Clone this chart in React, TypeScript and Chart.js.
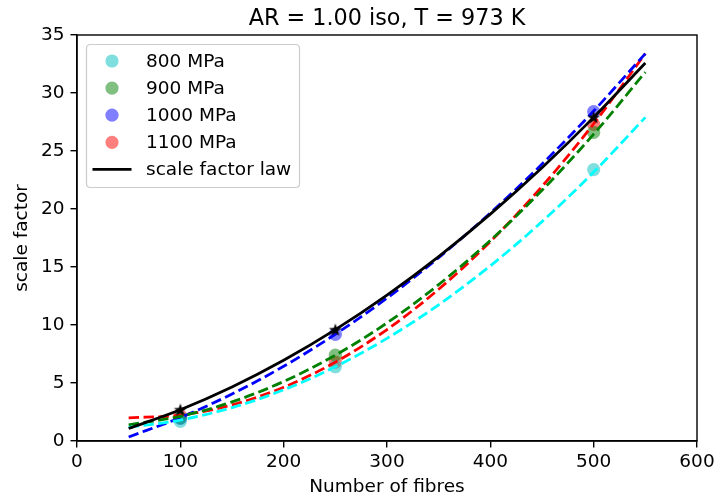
import React, { useEffect, useRef } from "react";
import { Chart, registerables } from "chart.js";

Chart.register(...registerables);

const titleText = "AR = 1.00 iso, T = 973 K";
const xTitle = "Number of fibres";
const yTitle = "scale factor";

const fibreCounts = [100, 250, 500];
const pts800 = [1.7, 6.4, 23.4];
const pts900 = [2.0, 7.4, 26.6];
const pts1000 = [1.95, 9.2, 28.4];
const pts1100 = [2.2, 6.8, 27.3];
const lawStars = [2.7, 9.6, 27.9];

const fitX = [50, 100, 150, 200, 250, 300, 350, 400, 450, 500, 550];
const fit800 = [1.18, 1.8, 2.88, 4.41, 6.4, 8.85, 11.74, 15.1, 18.91, 23.18, 27.9];
const fit900 = [1.4, 2.13, 3.37, 5.13, 7.4, 10.18, 13.48, 17.29, 21.61, 26.45, 31.8];
const fit1000 = [0.35, 2.02, 4.05, 6.44, 9.2, 12.32, 15.81, 19.66, 23.87, 28.45, 33.4];
const fit1100 = [2.0, 2.23, 3.11, 4.63, 6.8, 9.61, 13.08, 17.19, 21.94, 27.35, 33.4];
const lawCurve = [1.08, 2.7, 4.66, 6.96, 9.6, 12.58, 15.9, 19.56, 23.56, 27.9, 32.58];

const seriesLabels = ["800 MPa", "900 MPa", "1000 MPa", "1100 MPa"];
const lawLabel = "scale factor law";

const FONT = "'DejaVu Sans', sans-serif";
const FS = 18.5;
const TITLE_FS = 22.3;

function xy(xs: number[], ys: number[]) {
  return xs.map((x, i) => ({ x, y: ys[i] }));
}

function makeStar(): HTMLCanvasElement {
  const c = document.createElement("canvas");
  c.width = 14;
  c.height = 14;
  const g = c.getContext("2d")!;
  const cx = 7, cy = 7.5, R = 6.8, r = 2.7;
  g.beginPath();
  for (let i = 0; i < 10; i++) {
    const ang = -Math.PI / 2 + (i * Math.PI) / 5;
    const rad = i % 2 === 0 ? R : r;
    const px = cx + rad * Math.cos(ang);
    const py = cy + rad * Math.sin(ang);
    if (i === 0) g.moveTo(px, py);
    else g.lineTo(px, py);
  }
  g.closePath();
  g.fillStyle = "#000";
  g.fill();
  return c;
}

const frameAndLegend = {
  id: "frameAndLegend",
  afterDraw(chart: any) {
    const ctx = chart.ctx;
    const a = chart.chartArea;
    ctx.save();
    ctx.strokeStyle = "#000";
    ctx.lineWidth = 1.4;
    ctx.strokeRect(a.left, a.top, a.right - a.left, a.bottom - a.top);

    // axes title, centred over the plot area
    ctx.font = `${TITLE_FS}px ${FONT}`;
    ctx.fillStyle = "#000";
    ctx.textAlign = "center";
    ctx.textBaseline = "middle";
    ctx.fillText(titleText, (a.left + a.right) / 2, 19);

    // legend box
    const x0 = a.left + 9.5, y0 = a.top + 9.5, w = 213, h = 143;
    const rr = 4;
    ctx.beginPath();
    ctx.moveTo(x0 + rr, y0);
    ctx.lineTo(x0 + w - rr, y0);
    ctx.quadraticCurveTo(x0 + w, y0, x0 + w, y0 + rr);
    ctx.lineTo(x0 + w, y0 + h - rr);
    ctx.quadraticCurveTo(x0 + w, y0 + h, x0 + w - rr, y0 + h);
    ctx.lineTo(x0 + rr, y0 + h);
    ctx.quadraticCurveTo(x0, y0 + h, x0, y0 + h - rr);
    ctx.lineTo(x0, y0 + rr);
    ctx.quadraticCurveTo(x0, y0, x0 + rr, y0);
    ctx.closePath();
    ctx.fillStyle = "rgba(255,255,255,0.8)";
    ctx.fill();
    ctx.strokeStyle = "#cccccc";
    ctx.lineWidth = 1.2;
    ctx.stroke();

    const entries = chart.data.datasets.filter((d: any) => d.legendKind);
    let y = y0 + 16.5;
    ctx.font = `${FS}px ${FONT}`;
    ctx.textBaseline = "middle";
    ctx.textAlign = "left";
    for (const d of entries) {
      if (d.legendKind === "point") {
        ctx.beginPath();
        ctx.arc(x0 + 25.5, y, 6.6, 0, Math.PI * 2);
        ctx.fillStyle = d.backgroundColor;
        ctx.fill();
      } else {
        ctx.beginPath();
        ctx.moveTo(x0 + 6, y);
        ctx.lineTo(x0 + 45, y);
        ctx.strokeStyle = d.borderColor;
        ctx.lineWidth = 2.8;
        ctx.stroke();
      }
      ctx.fillStyle = "#000";
      ctx.fillText(d.label, x0 + 59.5, y + 1);
      y += 27.1;
    }
    ctx.restore();
  },
};

export default function App() {
  const ref = useRef<HTMLCanvasElement | null>(null);

  useEffect(() => {
    if (!ref.current) return;
    const star = makeStar();
    const pointColors = [
      "rgba(0,191,191,0.5)",
      "rgba(0,128,0,0.5)",
      "rgba(0,0,255,0.5)",
      "rgba(255,0,0,0.5)",
    ];
    const lineColors = ["#00ffff", "#008000", "#0000ff", "#ff0000"];
    const ptsAll = [pts800, pts900, pts1000, pts1100];
    const fitsAll = [fit800, fit900, fit1000, fit1100];

    const datasets: any[] = [];
    ptsAll.forEach((p, i) => {
      datasets.push({
        label: seriesLabels[i],
        legendKind: "point",
        data: xy(fibreCounts, p),
        backgroundColor: pointColors[i],
        borderColor: pointColors[i],
        borderWidth: 0,
        pointRadius: 6.6,
        showLine: false,
        order: 4,
      });
    });
    fitsAll.forEach((f, i) => {
      datasets.push({
        label: "",
        data: xy(fitX, f),
        borderColor: lineColors[i],
        backgroundColor: lineColors[i],
        borderWidth: 2.8,
        borderDash: [10.4, 4.5],
        pointRadius: 0,
        showLine: true,
        cubicInterpolationMode: "monotone",
        order: 3,
      });
    });
    datasets.push({
      label: lawLabel,
      legendKind: "line",
      data: xy(fitX, lawCurve),
      borderColor: "#000",
      backgroundColor: "#000",
      borderWidth: 2.8,
      pointRadius: 0,
      showLine: true,
      cubicInterpolationMode: "monotone",
      order: 2,
    });
    datasets.push({
      label: "",
      data: xy(fibreCounts, lawStars),
      pointStyle: star,
      pointRadius: 7,
      showLine: false,
      order: 1,
    });

    const tickFont = { family: FONT, size: FS };
    const chart = new Chart(ref.current, {
      type: "scatter",
      data: { datasets },
      options: {
        animation: false,
        responsive: false,
        devicePixelRatio: 1,
        layout: { padding: { left: 0, right: 24, top: 35, bottom: 0 } },
        plugins: {
          legend: { display: false },
          tooltip: { enabled: false },
          title: { display: false },
        },
        scales: {
          x: {
            type: "linear",
            min: 0,
            max: 600,
            ticks: { stepSize: 100, color: "#000", font: tickFont, padding: 4, maxRotation: 0 },
            grid: { display: true, drawOnChartArea: false, drawTicks: true, tickLength: 6.5, color: "#000", lineWidth: 1.4 },
            border: { display: true, color: "#000", width: 1.4 },
            title: { display: true, text: xTitle, color: "#000", font: { family: FONT, size: FS, lineHeight: 1.2 }, padding: { top: 0, bottom: 2.9 } },
            afterFit(scale: any) {
              scale.height = 60;
            },
          },
          y: {
            type: "linear",
            min: 0,
            max: 35,
            ticks: { stepSize: 5, color: "#000", font: tickFont, padding: 6 },
            grid: { display: true, drawOnChartArea: false, drawTicks: true, tickLength: 6.5, color: "#000", lineWidth: 1.4 },
            border: { display: true, color: "#000", width: 1.4 },
            title: { display: true, text: yTitle, color: "#000", font: { family: FONT, size: FS, lineHeight: 1.2 }, padding: { top: 11.4, bottom: 0 } },
            afterFit(scale: any) {
              scale.width = 77;
            },
          },
        },
      } as any,
      plugins: [frameAndLegend],
    });
    return () => chart.destroy();
  }, []);

  return (
    <div style={{ position: "fixed", left: 0, top: 0, width: 721, height: 501, background: "#fff" }}>
      <canvas ref={ref} width={721} height={501} />
    </div>
  );
}
